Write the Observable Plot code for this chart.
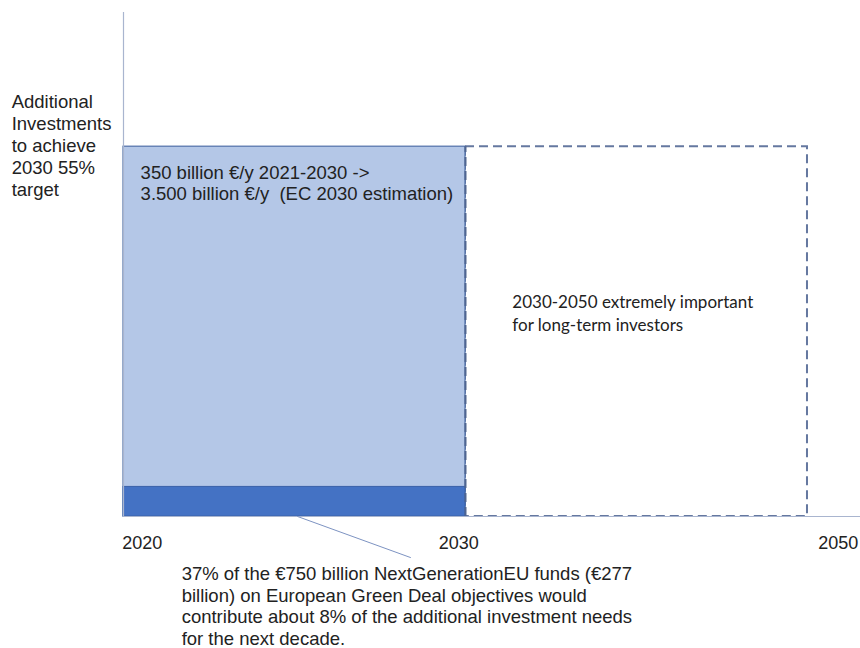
<!DOCTYPE html>
<html>
<head>
<meta charset="utf-8">
<script src="https://cdn.jsdelivr.net/npm/d3@7"></script>
<script src="https://cdn.jsdelivr.net/npm/@observablehq/plot@0.6"></script>
<style>
  html, body { margin: 0; padding: 0; background: #fff; }
  svg { display: block; }
</style>
</head>
<body>
<div id="chart"></div>
<script>
// Periods (index positions on the x axis) and labels
const yearLabels = ["2020", "2030", "2050"];
const yearIndex = [0, 1, 2];
const tickLabelPos = [0.055, 0.98, 2.09];

// Investment values (billion €/y)
const needPerYear = 350;       // 2021-2030 additional needs
const ngeuShare = 28;          // ~8% of needs covered by NGEU
const futureLevel = 350;       // 2030-2050 outlook (dashed)

// Annotations
const yLabelText = "Additional\nInvestments\nto achieve\n2030 55%\ntarget";
const boxText = "350 billion €/y 2021-2030 ->\n3.500 billion €/y  (EC 2030 estimation)";
const futureText = "2030-2050 extremely important\nfor long-term investors";
const noteText = "37% of the €750 billion NextGenerationEU funds (€277\nbillion) on European Green Deal objectives would\ncontribute about 8% of the additional investment needs\nfor the next decade.";

const bars = [
  {x1: yearIndex[0], x2: yearIndex[1], y1: 0, y2: needPerYear, kind: "needs"},
  {x1: yearIndex[0], x2: yearIndex[1], y1: 0, y2: ngeuShare, kind: "ngeu"}
];
const future = [{x1: yearIndex[1], x2: yearIndex[2], y1: 0, y2: futureLevel}];
const ticks = yearLabels.map((t, i) => ({label: t, x: tickLabelPos[i], y: -25.6}));
const leader = [{x: 0.509, y: 0}, {x: 0.839, y: -38.8}];

const arial = "Liberation Sans, Arial, sans-serif";

const chart = Plot.plot({
  width: 860,
  height: 648,
  marginLeft: 123,
  marginRight: 0,
  marginTop: 12,
  marginBottom: 132,
  style: {fontFamily: arial, background: "#fff"},
  x: {domain: [0, 2.155], axis: null},
  y: {domain: [0, 477], axis: null},
  marks: [
    // dashed outlook box
    Plot.rect(future, {x1: "x1", x2: "x2", y1: "y1", y2: "y2", fill: "none",
      stroke: "#6578a0", strokeWidth: 2, strokeDasharray: "9,5"}),
    // needs box
    Plot.rect(bars.slice(0, 1), {x1: "x1", x2: "x2", y1: "y1", y2: "y2",
      fill: "#b4c7e7", stroke: "#4f6fa8", strokeWidth: 1.2}),
    Plot.rect(bars.slice(1), {x1: "x1", x2: "x2", y1: "y1", y2: "y2",
      fill: "#4472c4", stroke: "#3a62a8", strokeWidth: 1}),
    // dashed right edge over the shared border
    Plot.ruleX([yearIndex[1]], {y1: 0, y2: needPerYear, stroke: "#4f6590",
      strokeWidth: 2, strokeDasharray: "9,5"}),
    // axes lines
    Plot.ruleX([0], {y1: 0, y2: 477, stroke: "#a9b5cf", strokeWidth: 1.2}),
    Plot.ruleY([0], {x1: 0, x2: 2.155, stroke: "#a9b5cf", strokeWidth: 1.2}),
    // leader line
    Plot.line(leader, {x: "x", y: "y", stroke: "#7d93c2", strokeWidth: 1}),
    // tick labels
    Plot.text(ticks, {x: "x", y: "y", text: "label", fontSize: 18, fill: "#222"}),
    // annotations
    Plot.text([yLabelText], {x: -0.327, y: 351.6, textAnchor: "start",
      lineAnchor: "middle", lineHeight: 1.18, fontSize: 18.5, fill: "#222"}),
    Plot.text([boxText], {x: 0.05, y: 315.6, textAnchor: "start",
      lineAnchor: "middle", lineHeight: 1.14, fontSize: 18.5, fill: "#222"}),
    Plot.text([futureText], {x: 1.137, y: 193.5, textAnchor: "start",
      lineAnchor: "middle", lineHeight: 1.33, fontSize: 17, fill: "#222",
      fontFamily: "Lato, Carlito, Calibri, sans-serif"}),
    Plot.text([noteText], {x: 0.17, y: -84.2, textAnchor: "start",
      lineAnchor: "middle", lineHeight: 1.16, fontSize: 18.5, fill: "#222"})
  ]
});
document.getElementById("chart").append(chart);
</script>
</body>
</html>
